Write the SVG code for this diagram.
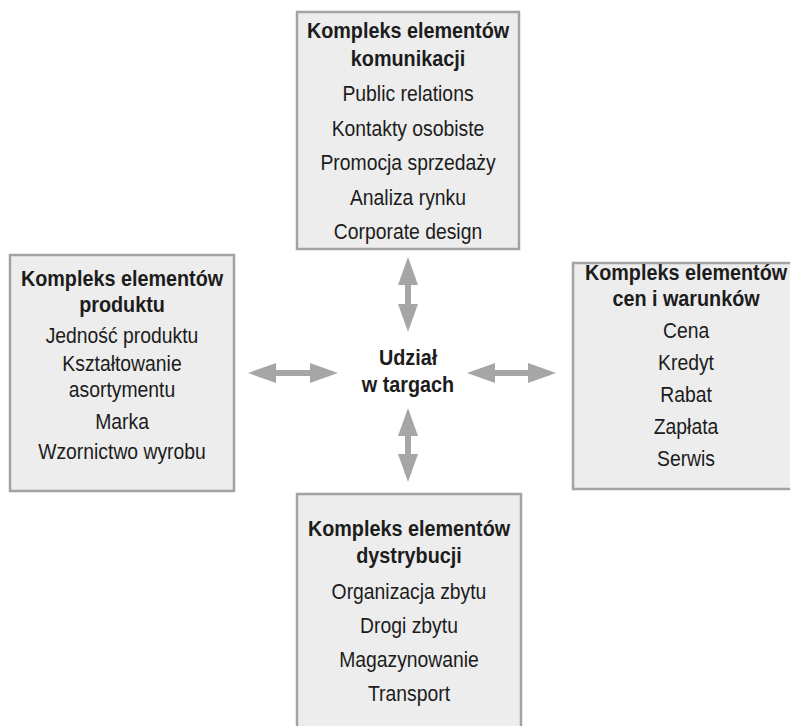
<svg xmlns="http://www.w3.org/2000/svg" width="790" height="726" viewBox="0 0 790 726">
  <style>
    .box { fill: #ededed; stroke: #a3a3a3; stroke-width: 2.5; }
    .t { font-family: "Liberation Sans", Arial, sans-serif; font-size: 21.5px; fill: #1c1c1c; text-anchor: middle;
         transform: scaleX(0.9); transform-box: fill-box; transform-origin: center; }
    .h { font-weight: bold; font-size: 22px; }
    .link { stroke: #a6a6a6; stroke-width: 6; fill: none; marker-start: url(#head); marker-end: url(#head); }
  </style>
  <defs>
    <marker id="head" viewBox="0 0 28 20" refX="2" refY="10" markerWidth="28" markerHeight="20" markerUnits="userSpaceOnUse" orient="auto-start-reverse">
      <path d="M0,0 L28,10 L0,20 Z" fill="#a6a6a6"/>
    </marker>
  </defs>

  <rect width="790" height="726" fill="#ffffff"/>

  <!-- communication mix -->
  <g id="komunikacja">
    <rect class="box" x="297" y="12" width="222" height="237"/>
    <text class="t h" x="408" y="38">Kompleks elementów</text>
    <text class="t h" x="408" y="66">komunikacji</text>
    <text class="t" x="408" y="101">Public relations</text>
    <text class="t" x="408" y="136">Kontakty osobiste</text>
    <text class="t" x="408" y="170">Promocja sprzedaży</text>
    <text class="t" x="408" y="205">Analiza rynku</text>
    <text class="t" x="408" y="239">Corporate design</text>
  </g>

  <!-- product mix -->
  <g id="produkt">
    <rect class="box" x="10" y="255" width="224" height="236"/>
    <text class="t h" x="122" y="286">Kompleks elementów</text>
    <text class="t h" x="122" y="312">produktu</text>
    <text class="t" x="122" y="343">Jedność produktu</text>
    <text class="t" x="122" y="371">Kształtowanie</text>
    <text class="t" x="122" y="397">asortymentu</text>
    <text class="t" x="122" y="429">Marka</text>
    <text class="t" x="122" y="459">Wzornictwo wyrobu</text>
  </g>

  <!-- price and conditions mix -->
  <g id="ceny">
    <rect class="box" x="573" y="263" width="230" height="226"/>
    <text class="t h" x="686" y="280">Kompleks elementów</text>
    <text class="t h" x="686" y="306">cen i warunków</text>
    <text class="t" x="686" y="338">Cena</text>
    <text class="t" x="686" y="370">Kredyt</text>
    <text class="t" x="686" y="402">Rabat</text>
    <text class="t" x="686" y="434">Zapłata</text>
    <text class="t" x="686" y="466">Serwis</text>
  </g>

  <!-- distribution mix -->
  <g id="dystrybucja">
    <rect class="box" x="297" y="494" width="224" height="240"/>
    <text class="t h" x="409" y="536">Kompleks elementów</text>
    <text class="t h" x="409" y="563">dystrybucji</text>
    <text class="t" x="409" y="599">Organizacja zbytu</text>
    <text class="t" x="409" y="633">Drogi zbytu</text>
    <text class="t" x="409" y="667">Magazynowanie</text>
    <text class="t" x="409" y="701">Transport</text>
  </g>

  <!-- centre -->
  <g id="udzial">
    <text class="t h" x="408" y="365">Udział</text>
    <text class="t h" x="408" y="392">w targach</text>
  </g>

  <!-- two-way links -->
  <g id="connectors">
    <line class="link" x1="408" y1="283" x2="408" y2="306"/>
    <line class="link" x1="408" y1="434" x2="408" y2="456"/>
    <line class="link" x1="274" y1="373" x2="312" y2="373"/>
    <line class="link" x1="493" y1="373" x2="530" y2="373"/>
  </g>
</svg>
